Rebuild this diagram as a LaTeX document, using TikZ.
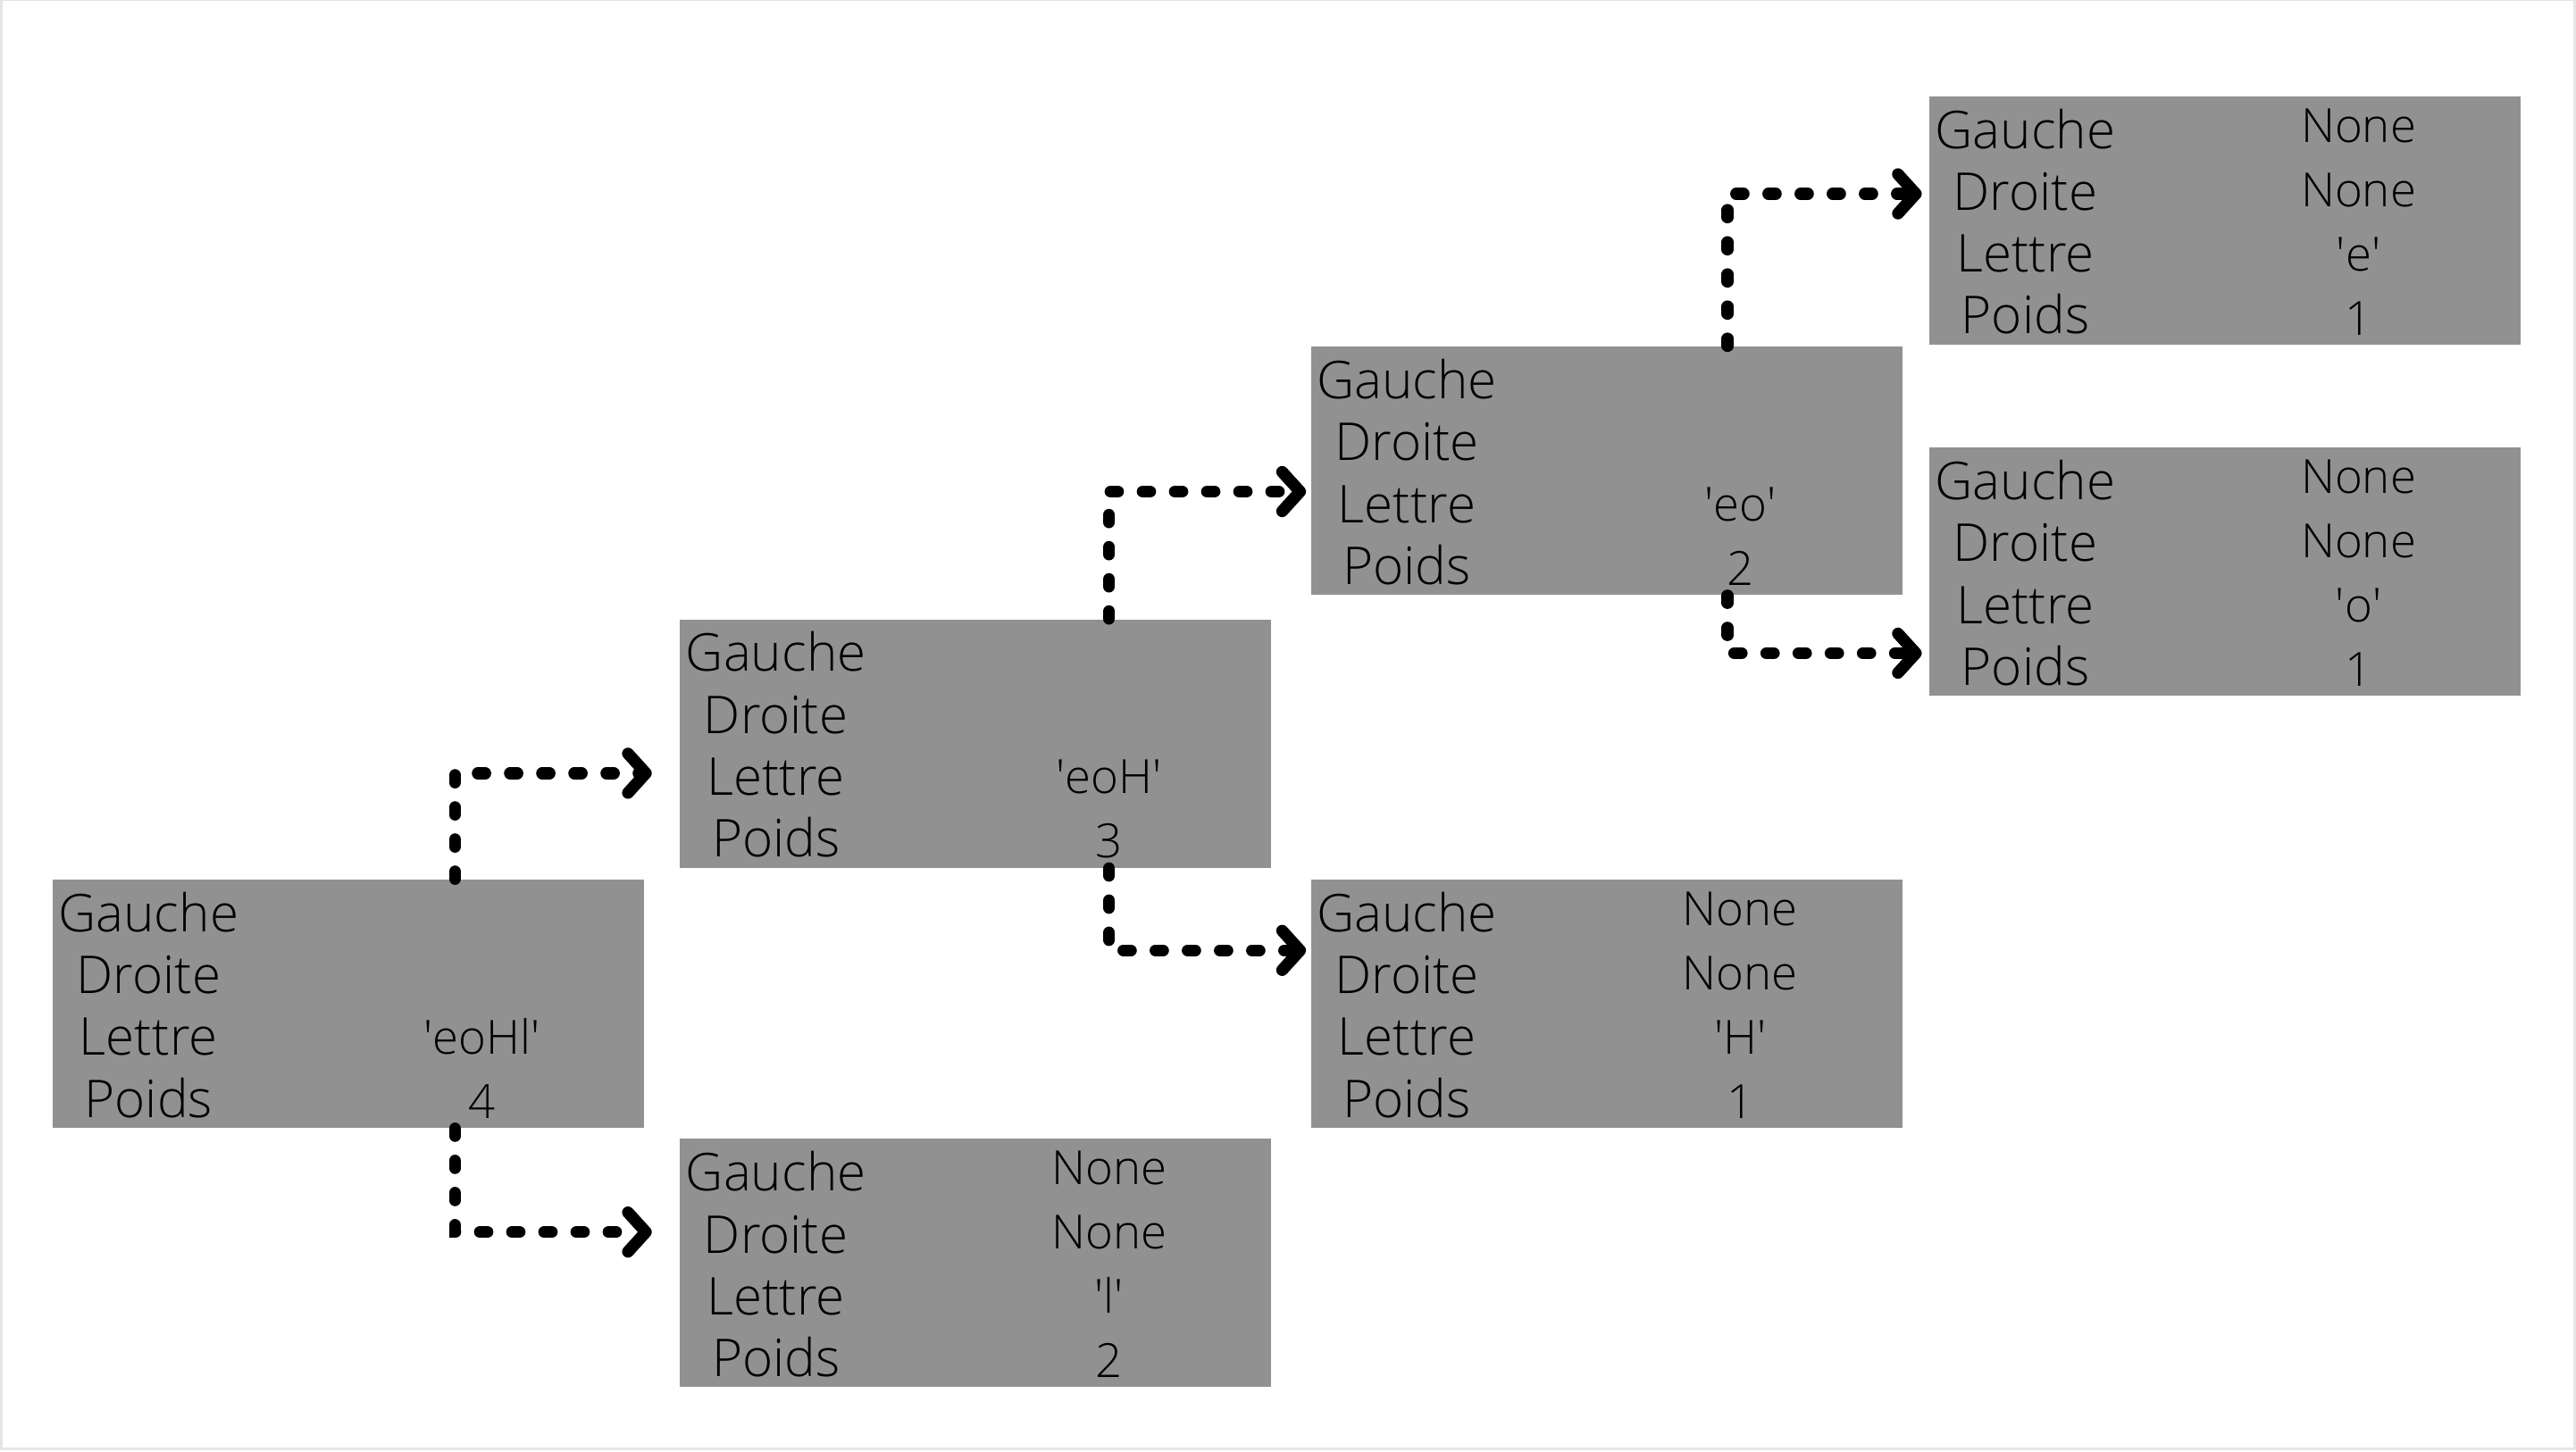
\documentclass[tikz,border=0pt]{standalone}
\usepackage{fontspec}
\setmainfont{Open Sans}[UprightFont=* Light]
\usetikzlibrary{positioning,arrows.meta}

\definecolor{boxgray}{RGB}{145,145,145}
\newcommand{\q}[1]{\textquotesingle#1\textquotesingle}
\newcommand{\champs}[5]{%
  \foreach \nom/\val [count=\i] in {Gauche/#2,Droite/#3,Lettre/#4,Poids/#5} {
    \node[champ] (#1-g\i) at ([xshift=10.8mm,yshift={-5.9mm-(\i-1)*6.93mm}]#1.north west) {\nom};
    \node[valeur] (#1-v\i) at ([xshift=48.1mm,yshift={-5.2mm-(\i-1)*7.2mm}]#1.north west) {\val};
  }%
}

\begin{document}
\begin{tikzpicture}
    \tikzstyle{noeud} = [rectangle, fill=boxgray, minimum width=66.2mm, minimum height=27.8mm, inner sep=0pt]
    \tikzstyle{champ} = [anchor=base, inner sep=0pt, font=\fontsize{16.6}{20}\selectfont]
    \tikzstyle{valeur} = [anchor=base, inner sep=0pt, font=\fontsize{15}{18}\selectfont]
    \tikzstyle{arrow} = [line width=1.33mm, dash pattern=on 0.84mm off 2.76mm, line cap=round,
        -{Straight Barb[length=2mm, width=4.4mm, round]}]

    \useasboundingbox (0,0) rectangle (288.4mm,162.5mm);
    \draw[black!10, line width=0.3mm] (0.15mm,0.25mm) rectangle (288.2mm,162.5mm);

    \node[noeud] (racine) at (39mm,50.1mm) {};
    \node[noeud, above right=1.2mm and 3.9mm of racine] (eoH) {};
    \node[noeud, below right=1.1mm and 3.9mm of racine] (feuilleL) {};
    \node[noeud, above right=2.6mm and 4.3mm of eoH] (eo) {};
    \node[noeud, below right=1.2mm and 4.3mm of eoH] (feuilleH) {};
    \node[noeud, above right=0.1mm and 2.9mm of eo] (feuilleE) {};
    \node[noeud, below=11.4mm of feuilleE] (feuilleO) {};

    \champs{racine}{}{}{\q{eoHl}}{4}
    \champs{eoH}{}{}{\q{eoH}}{3}
    \champs{feuilleL}{None}{None}{\q{l}}{2}
    \champs{eo}{}{}{\q{eo}}{2}
    \champs{feuilleH}{None}{None}{\q{H}}{1}
    \champs{feuilleE}{None}{None}{\q{e}}{1}
    \champs{feuilleO}{None}{None}{\q{o}}{1}

    \draw[arrow] ([xshift=45.1mm]racine.north west) |- ([xshift=-3.1mm,yshift=-17.3mm]eoH.north west);
    \draw[arrow] ([xshift=45.1mm]racine.south west) |- ([xshift=-3.1mm,yshift=-10.5mm]feuilleL.north west);
    \draw[arrow] ([xshift=48.1mm]eoH.north west) |- ([xshift=-0.5mm,yshift=-16.3mm]eo.north west);
    \draw[arrow] ([xshift=48.1mm]eoH.south west) |- ([xshift=-0.5mm,yshift=-8mm]feuilleH.north west);
    \draw[arrow] ([xshift=46.7mm]eo.north west) |- ([xshift=-0.8mm,yshift=-11mm]feuilleE.north west);
    \draw[arrow] ([xshift=46.7mm]eo.south west) |- ([xshift=-0.8mm,yshift=-23.1mm]feuilleO.north west);
\end{tikzpicture}
\end{document}
